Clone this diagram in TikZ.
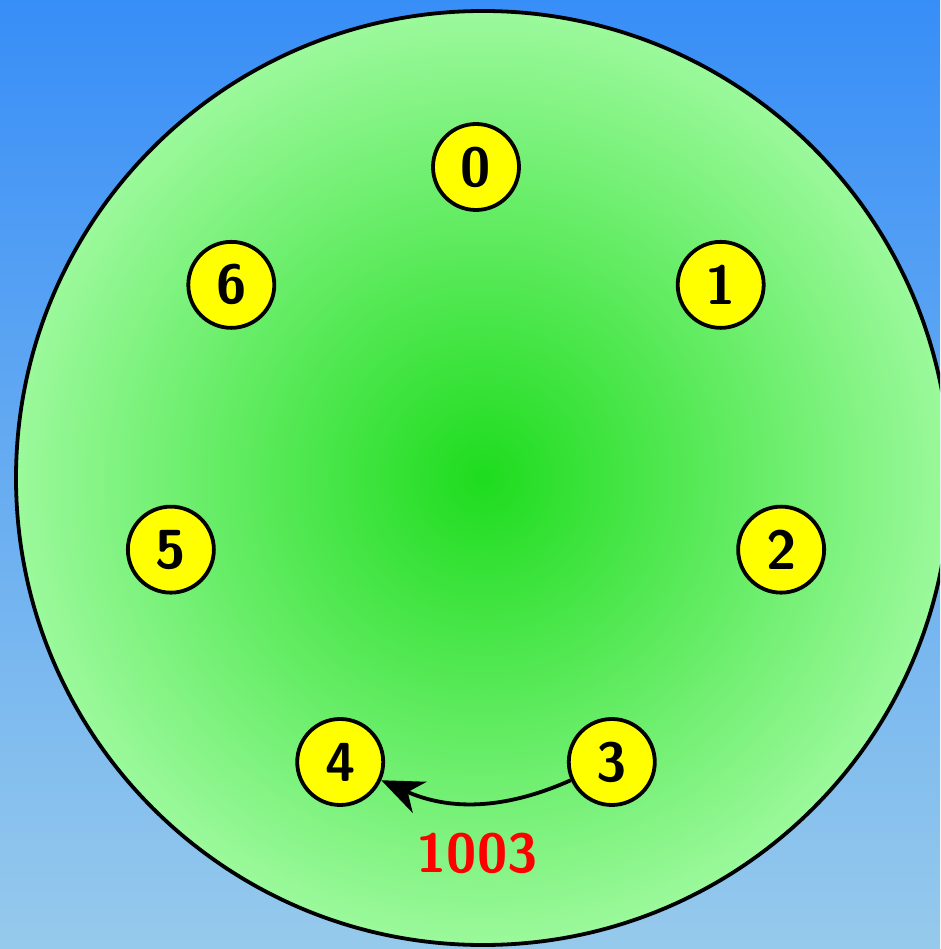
\documentclass[tikz,border=0pt]{standalone}
\usepackage{fontspec}
\usetikzlibrary{arrows.meta}
\definecolor{bgtop}{RGB}{56,142,247}
\definecolor{bgbot}{RGB}{150,202,236}
\definecolor{ballin}{RGB}{30,220,30}
\definecolor{ballout}{RGB}{155,249,155}
\definecolor{nodeyellow}{RGB}{255,255,0}
\definecolor{labelred}{RGB}{255,0,0}
\pgfdeclareradialshading{greenball}{\pgfpoint{0bp}{0bp}}{color(0bp)=(ballin); color(25bp)=(ballout); color(50bp)=(ballout)}
\tikzset{
  numnode/.style={circle, draw=black, fill=nodeyellow, line width=3.8pt, minimum size=86pt, inner sep=0pt,
    font=\fontsize{55}{60}\selectfont\sffamily\bfseries},
  edgeline/.style={line width=3.8pt, -{Stealth[length=42pt,width=34pt,inset=13pt]}},
}
\begin{document}
\begin{tikzpicture}[x=1pt,y=-1pt]
\useasboundingbox (0,0) rectangle (940,949);
\clip (0,0) rectangle (940,949);
\shade[top color=bgtop, bottom color=bgbot] (0,0) rectangle (940,949);
\shade[shading=greenball] (483,478) circle[radius=467];
\draw[line width=3.8pt] (483,478) circle[radius=467];
\foreach \k in {0,...,6}{
  \node[numnode] (n\k) at ({476+313*sin(\k*360/7)},{480-313*cos(\k*360/7)}) {\k};
}
\draw[edgeline] (n3) to[bend left=24] (n4);
\node[text=labelred, font=\fontsize{55}{60}\selectfont\sffamily\bfseries] (lbl) at (477,853) {1003};
\end{tikzpicture}
\end{document}
